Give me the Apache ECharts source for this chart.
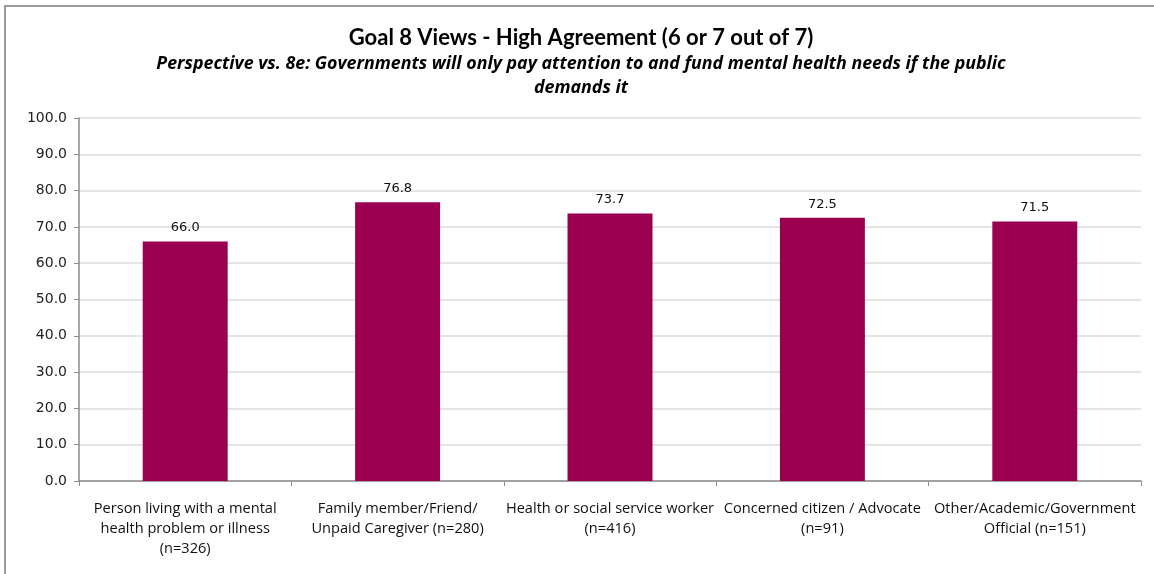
<!DOCTYPE html>
<html>
<head>
<meta charset="utf-8">
<script src="https://cdn.jsdelivr.net/npm/echarts@6/dist/echarts.min.js"></script>
<style>
  html, body { margin: 0; padding: 0; background: #fff; }
  #chart { width: 1154px; height: 574px; }
</style>
</head>
<body>
<div id="chart"></div>
<script>
// Respondent perspectives (x-axis categories)
const categories = [
  'Person living with a mental\nhealth problem or illness\n(n=326)',
  'Family member/Friend/\nUnpaid Caregiver (n=280)',
  'Health or social service worker\n(n=416)',
  'Concerned citizen / Advocate\n(n=91)',
  'Other/Academic/Government\nOfficial (n=151)'
];
// Percent in high agreement (6 or 7 out of 7)
const highAgreement = [66.0, 76.8, 73.7, 72.5, 71.5];

const titleText = 'Goal 8 Views - High Agreement (6 or 7 out of 7)';
const subtitleText = 'Perspective vs. 8e: Governments will only pay attention to and fund mental health needs if the public\ndemands it';

const chart = echarts.init(document.getElementById('chart'), null, { renderer: 'canvas' });

chart.setOption({
  animation: false,
  backgroundColor: '#ffffff',
  title: [
    {
      text: titleText,
      left: 576,
      top: 22,
      textAlign: 'center',
      textStyle: { fontFamily: 'Lato', fontWeight: 'bold', fontSize: 22, color: '#000' }
    },
    {
      text: subtitleText,
      left: 576,
      top: 47,
      textAlign: 'center',
      textStyle: { fontFamily: 'Open Sans', fontWeight: 'bold', fontStyle: 'italic', fontSize: 17.8, lineHeight: 24, color: '#000' }
    }
  ],
  graphic: [
    {
      type: 'polyline',
      shape: { points: [[5, 574], [5, 6], [1154, 6]] },
      style: { stroke: '#9a9a9a', lineWidth: 2, fill: null }
    }
  ],
  grid: { left: 79, right: 13, top: 118, bottom: 93, containLabel: false },
  xAxis: {
    type: 'category',
    data: categories,
    axisLine: { lineStyle: { color: '#8c8c8c', width: 1.5 } },
    axisTick: { show: true, alignWithLabel: false, length: 5, lineStyle: { color: '#8c8c8c' } },
    axisLabel: {
      interval: 0,
      margin: 18,
      fontFamily: 'Open Sans',
      fontSize: 14.6,
      lineHeight: 20,
      color: '#111'
    }
  },
  yAxis: {
    type: 'value',
    min: 0,
    max: 100,
    interval: 10,
    axisLine: { show: true, lineStyle: { color: '#8c8c8c', width: 1.5 } },
    axisTick: { show: true, length: 5, lineStyle: { color: '#8c8c8c' } },
    axisLabel: {
      margin: 12,
      fontFamily: 'DejaVu Sans',
      fontSize: 14,
      color: '#222',
      formatter: v => v.toFixed(1)
    },
    splitLine: { show: true, lineStyle: { color: '#dcdcdc', width: 1.5 } }
  },
  series: [
    {
      type: 'bar',
      data: highAgreement,
      barWidth: '40%',
      itemStyle: { color: '#9b0050' },
      label: {
        show: true,
        position: 'top',
        distance: 7,
        fontFamily: 'DejaVu Sans',
        fontSize: 13,
        color: '#111',
        formatter: p => p.value.toFixed(1)
      }
    }
  ]
});
</script>
</body>
</html>
